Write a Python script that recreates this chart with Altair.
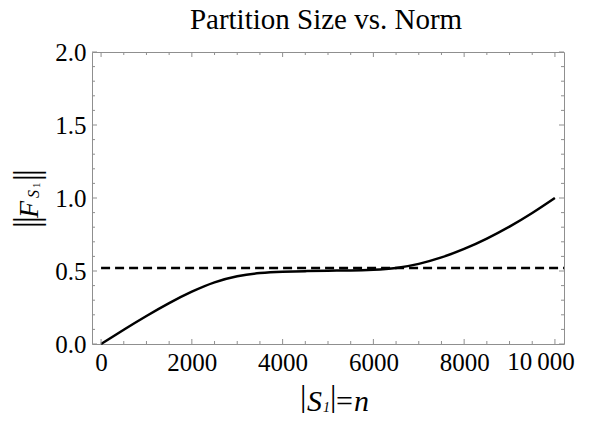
import altair as alt
import pandas as pd

# ---- data ----
n_vals = [0, 500, 1000, 1500, 2000, 2500, 3000, 3500, 4000, 4500, 5000,
          5500, 6000, 6500, 7000, 7500, 8000, 8500, 9000, 9500, 10000]
norm_vals = [0.0, 0.098, 0.192, 0.280, 0.358, 0.422, 0.464, 0.486, 0.495, 0.499, 0.502,
             0.504, 0.509, 0.521, 0.549, 0.593, 0.651, 0.722, 0.804, 0.897, 1.0]
ref_x = [0, 10200]
ref_y = [0.52, 0.52]

x_major = [0, 2000, 4000, 6000, 8000, 10000]
x_minor = [500, 1000, 1500, 2500, 3000, 3500, 4500, 5000, 5500,
           6500, 7000, 7500, 8500, 9000, 9500]
y_major = [0.0, 0.5, 1.0, 1.5, 2.0]
y_minor = [0.1, 0.2, 0.3, 0.4, 0.6, 0.7, 0.8, 0.9, 1.1, 1.2, 1.3, 1.4,
           1.6, 1.7, 1.8, 1.9]
last_x_label = "10\u2009000"

title_text = "Partition Size vs. Norm"
x_title_parts = ["|", "S", "1", "|", "=", "n"]
y_title_parts = ["|", "|", "F", "S", "1", "|", "|"]

# ---- layout ----
W, H = 472, 292
XDOM = [-200, 10200]
YDOM = [0, 2]
GRAY = "#8f8f8f"
FONT = "Liberation Serif"
LBL = 25

xs = alt.Scale(domain=XDOM, nice=False, zero=False)
ys = alt.Scale(domain=YDOM, nice=False, zero=False)

x_axis = alt.Axis(
    values=x_major[:-1], format="d", title=None, ticks=False, domain=False, grid=False,
    labelFont=FONT, labelFontSize=LBL, labelColor="black", labelPadding=6,
    labelFlush=False, labelOverlap=False,
)
y_axis = alt.Axis(
    values=y_major, format=".1f", title=None, ticks=False, domain=False,
    grid=False, labelFont=FONT, labelFontSize=LBL, labelColor="black", labelPadding=6,
    labelFlush=False, labelOverlap=False,
)

curve = alt.Chart(pd.DataFrame({"n": n_vals, "v": norm_vals})).mark_line(
    color="black", strokeWidth=2.5, interpolate="natural"
).encode(
    x=alt.X("n:Q", scale=xs, axis=x_axis),
    y=alt.Y("v:Q", scale=ys, axis=y_axis),
)

ref = alt.Chart(pd.DataFrame({"n": ref_x, "v": ref_y})).mark_line(
    color="black", strokeWidth=2.5, strokeDash=[9, 5]
).encode(
    x=alt.X("n:Q", scale=xs, axis=x_axis),
    y=alt.Y("v:Q", scale=ys, axis=y_axis),
)

# the last x tick label, shifted left as in the reference
last_lbl = alt.Chart(pd.DataFrame({"n": [x_major[-1]], "s": [last_x_label]})).mark_text(
    align="center", baseline="top", font=FONT, fontSize=LBL, color="black", dx=-14
).encode(
    x=alt.X("n:Q", scale=xs, axis=x_axis), y=alt.value(H + 6), text="s:N"
)


def xticks(vals, length, top):
    df = pd.DataFrame({"n": vals})
    if top:
        yy, yy2 = alt.value(0), alt.value(length)
    else:
        yy, yy2 = alt.value(H), alt.value(H - length)
    return alt.Chart(df).mark_rule(color=GRAY, strokeWidth=1).encode(
        x=alt.X("n:Q", scale=xs, axis=x_axis), y=yy, y2=yy2
    )


def yticks(vals, length, right):
    df = pd.DataFrame({"v": vals})
    if right:
        xx, xx2 = alt.value(W), alt.value(W - length)
    else:
        xx, xx2 = alt.value(0), alt.value(length)
    return alt.Chart(df).mark_rule(color=GRAY, strokeWidth=1).encode(
        y=alt.Y("v:Q", scale=ys, axis=y_axis), x=xx, x2=xx2
    )


tick_layers = [
    xticks(x_major, 5, False), xticks(x_minor, 3, False),
    xticks(x_major, 5, True), xticks(x_minor, 3, True),
    yticks(y_major, 5, False), yticks(y_minor, 3, False),
    yticks(y_major, 5, True), yticks(y_minor, 3, True),
]


def txt(s, x, y, size, style="normal", angle=0, align="left"):
    return alt.Chart(pd.DataFrame({"s": [s]})).mark_text(
        align=align, baseline="alphabetic", font=FONT, fontSize=size,
        fontStyle=style, angle=angle, color="black"
    ).encode(text="s:N", x=alt.value(x), y=alt.value(y))


text_layers = [
    txt(title_text, 234, -23, 29, align="center"),
    # x title |S1|=n
    txt(x_title_parts[0], 208, 355, 32),
    txt(x_title_parts[1], 215, 359, 30, "italic"),
    txt(x_title_parts[2], 231, 360, 14, "italic"),
    txt(x_title_parts[3], 238, 355, 32),
    txt(x_title_parts[4], 244, 359, 30),
    txt(x_title_parts[5], 262, 359, 30, "italic"),
    # y title ||F_S1|| (rotated, reading upwards)
    txt(y_title_parts[0], -54, 176, 35, angle=270),
    txt(y_title_parts[1], -54, 171, 35, angle=270),
    txt(y_title_parts[2], -54, 166, 28, "italic", angle=270),
    txt(y_title_parts[3], -53, 146, 16, "italic", angle=270),
    txt(y_title_parts[4], -52, 136, 11, angle=270),
    txt(y_title_parts[5], -54, 129, 35, angle=270),
    txt(y_title_parts[6], -54, 124, 35, angle=270),
]

chart = alt.layer(curve, ref, last_lbl, *tick_layers, *text_layers).properties(
    width=W, height=H,
    autosize=alt.AutoSizeParams(type="none"),
    padding={"left": 84, "top": 44, "right": 18, "bottom": 69},
    background="white",
).configure_view(stroke=GRAY, strokeWidth=1)

chart.save("out.html", embed_options={"renderer": "svg", "actions": False})
